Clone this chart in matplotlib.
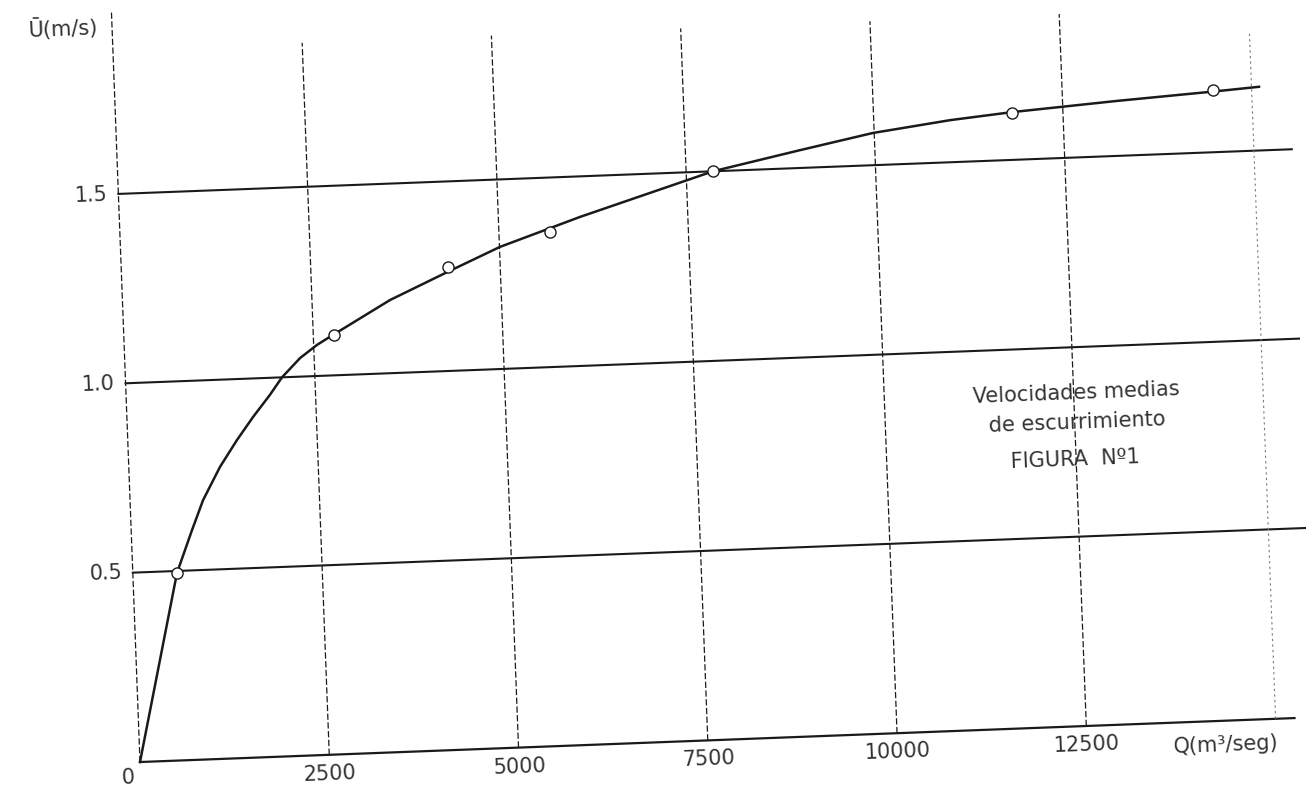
import matplotlib.pyplot as plt
from matplotlib.transforms import Affine2D

# Observed points (circles): discharge Q (m3/s) vs mean velocity U (m/s)
q_obs = [583, 2773, 4311, 5673, 7855, 11828, 14489]
v_obs = [0.495, 1.106, 1.274, 1.356, 1.501, 1.624, 1.664]

# Hand-drawn curve
q_curve = [0, 583, 802, 963, 1203, 1440, 1663, 1898, 2066, 2314, 2544, 2718,
           3530, 4311, 5006, 6077, 7855, 9013, 9984, 11006, 11828, 13218, 14489, 15099]
v_curve = [0, 0.495, 0.606, 0.684, 0.770, 0.839, 0.898, 0.955, 1.000, 1.049,
           1.082, 1.102, 1.193, 1.262, 1.322, 1.393, 1.500, 1.547, 1.585, 1.611,
           1.626, 1.645, 1.660, 1.668]

# Grid / tick labels
x_ticks = [2500, 5000, 7500, 10000, 12500]
x_labels = ["2500", "5000", "7500", "10000", "12500"]
y_ticks = [0.5, 1.0, 1.5]
y_labels = ["0.5", "1.0", "1.5"]

ink = "#1a1a1a"

fig = plt.figure(figsize=(13.06, 7.89), dpi=100)
ax = fig.add_axes([0, 0, 1, 1])
ax.set_xlim(-1848, 15391)
ax.set_ylim(-0.0712, 2.0106)
ax.axis("off")

# the scanned sheet is slightly tilted: rotate everything around the origin
tilt = 2.18
ox, oy = ax.transData.transform((0, 0))
tr = ax.transData + Affine2D().rotate_deg_around(ox, oy, tilt)

# axes
ax.plot([0, 15250], [0, 0], color=ink, lw=1.6, transform=tr)
ax.plot([0, 0], [0, 1.98], color=ink, lw=0.9, ls=(0, (5, 2)), transform=tr)

# horizontal lines
for v in y_ticks:
    ax.plot([0, 15500], [v, v], color=ink, lw=1.5, transform=tr)

# vertical lines
for q in x_ticks:
    ax.plot([q, q], [0, 1.88], color=ink, lw=0.9, ls=(0, (5, 2)), transform=tr)
ax.plot([15000, 15000], [0, 1.81], color="#777777", lw=0.8, ls=(0, (2, 3)), transform=tr)

# curve and points
ax.plot(q_curve, v_curve, color=ink, lw=1.8, transform=tr)
ax.plot(q_obs, v_obs, "o", ms=8, mfc="white", mec=ink, mew=1.0, transform=tr, zorder=3)

txt = dict(transform=tr, rotation=tilt, rotation_mode="anchor", color="#333333")

# tick labels
for q, lab in zip(x_ticks, x_labels):
    ax.text(q, -0.05, lab, ha="center", va="center", fontsize=15, **txt)
ax.text(-160, -0.04, "0", ha="center", va="center", fontsize=15, **txt)
for v, lab in zip(y_ticks, y_labels):
    ax.text(-140, v, lab, ha="right", va="center", fontsize=15, **txt)

# axis titles
ax.text(-650, 1.943, "Ū(m/s)", ha="center", va="center", fontsize=15, **txt)
ax.text(14333, -0.064, "Q(m³/seg)", ha="center", va="center", fontsize=15, **txt)

# caption
ax.text(12540, 0.879, "Velocidades medias", ha="center", va="center", fontsize=15, **txt)
ax.text(12530, 0.800, "de escurrimiento", ha="center", va="center", fontsize=15, **txt)
ax.text(12490, 0.703, "FIGURA  Nº1", ha="center", va="center", fontsize=15, **txt)

fig.savefig("out.png", dpi=100)
